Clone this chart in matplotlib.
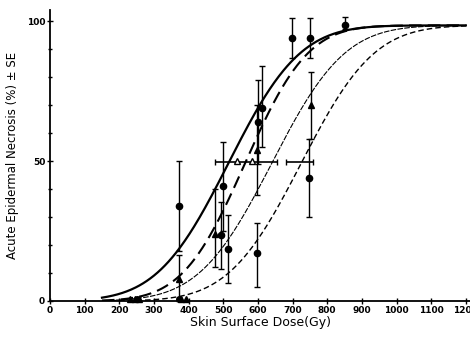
import math
import numpy as np
import matplotlib
matplotlib.use("Agg")
import matplotlib.pyplot as plt
from matplotlib.ticker import MultipleLocator

# ---- data ----
# fitted dose-response curves (probit): ED50 (Gy), sigma (Gy)
curve_ed50 = [515, 563, 640, 725]
curve_sigma = [162, 142, 165, 165]
curve_top = 98.5

# circles: dose, percent, lower err, upper err
circ_dose = [372, 493, 498, 514, 597, 600, 612, 698, 750, 748, 851]
circ_pct = [34, 23.5, 41, 18.6, 17, 64, 69, 94, 94, 44, 98.6]
circ_elo = [16, 12, 16, 12, 12, 15, 14, 7, 7, 14, 1.5]
circ_ehi = [16, 12, 16, 12, 11, 15, 15, 7, 7, 14, 3]

# triangles
tri_dose = [372, 476, 597, 752]
tri_pct = [8, 24, 54, 70]
tri_elo = [8, 12, 16, 12]
tri_ehi = [8.5, 16, 16, 12]

# zero-response points on baseline
zero_tri_dose = [232, 245, 258, 378, 392]
zero_circ_dose = [250, 372]

# ED50 +/- SE horizontal bars
ed_center = [565, 720]
ed_half = [90, 40]

x_ticks = list(range(0, 1300, 100))
y_ticklabels = [0, 50, 100]

# ---- figure ----
fig = plt.figure(figsize=(4.70, 3.38), dpi=100)
ax = fig.add_axes([50/470, 37/338, 420/470, 291/338])
ax.set_xlim(0, 1212)
ax.set_ylim(0, 104)

d = np.linspace(150, 1200, 400)
styles = [dict(ls='-', lw=1.6),
          dict(ls=(0, (6, 3)), lw=1.5),
          dict(ls=(0, (5, 1.2)), lw=0.8),
          dict(ls=(0, (4, 2.2)), lw=1.0)]
for ed, sg, st in zip(curve_ed50, curve_sigma, styles):
    p = np.array([curve_top * 0.5 * (1 + math.erf((x - ed) / (sg * math.sqrt(2)))) for x in d])
    ax.plot(d, p, color='black', **st)

ax.errorbar(circ_dose, circ_pct, yerr=[circ_elo, circ_ehi], fmt='o', color='black',
            ms=4.5, elinewidth=1.0, capsize=2.5, capthick=1.0, clip_on=False)
ax.errorbar(tri_dose, tri_pct, yerr=[tri_elo, tri_ehi], fmt='^', color='black',
            ms=5, elinewidth=1.0, capsize=2.5, capthick=1.0, clip_on=False)
ax.plot(zero_tri_dose, [0.6]*len(zero_tri_dose), '^', color='black', ms=4.5, clip_on=False)
ax.plot(zero_circ_dose, [0.6]*len(zero_circ_dose), 'o', color='black', ms=4, clip_on=False)

ax.errorbar(ed_center, [49.5]*len(ed_center), xerr=ed_half, fmt='none', ecolor='black',
            elinewidth=1.2, capsize=2.5, capthick=1.0)
ax.plot([540, 582], [50, 50], marker='^', ls='none', mfc='white', mec='black', ms=4)

for s in ['top', 'right']:
    ax.spines[s].set_visible(False)
for s in ['left', 'bottom']:
    ax.spines[s].set_linewidth(1.3)

ax.set_xticks(x_ticks)
ax.set_xticklabels([str(t) for t in x_ticks], fontsize=6.5, fontweight='bold')
ax.set_yticks(y_ticklabels)
ax.set_yticklabels([str(t) for t in y_ticklabels], fontsize=6.5, fontweight='bold')
ax.yaxis.set_minor_locator(MultipleLocator(10))
ax.tick_params(axis='both', which='major', direction='inout', length=4, width=1.0, pad=1.5)
ax.tick_params(axis='y', which='minor', direction='inout', length=3, width=1.0)

ax.set_xlabel('Skin Surface Dose(Gy)', fontsize=9, labelpad=1)
ax.set_ylabel('Acute Epidermal Necrosis (%) ± SE', fontsize=8.5)
ax.yaxis.set_label_coords(-0.074, 0.5)

fig.savefig('out.png', dpi=100)
